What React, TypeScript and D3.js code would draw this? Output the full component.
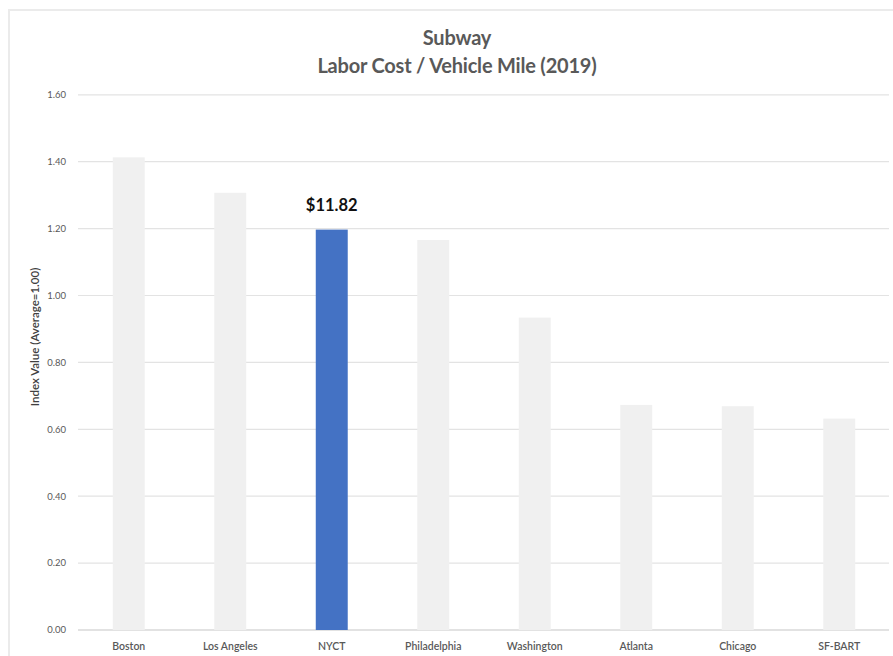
import React from "react";
import * as d3 from "d3";

const categories = ["Boston", "Los Angeles", "NYCT", "Philadelphia", "Washington", "Atlanta", "Chicago", "SF-BART"];
const values = [1.413, 1.307, 1.197, 1.166, 0.934, 0.673, 0.669, 0.632];
const highlight = "NYCT";
const highlightLabel = "$11.82";
const yTicks = [0, 0.2, 0.4, 0.6, 0.8, 1.0, 1.2, 1.4, 1.6];
const titleLines = ["Subway", "Labor Cost / Vehicle Mile (2019)"];
const yAxisTitle = "Index Value (Average=1.00)";

const W = 893;
const H = 656;
const FONT = "Lato, 'Open Sans', sans-serif";

export default function App() {
  const x = d3
    .scaleBand<string>()
    .domain(categories)
    .range([78, 890])
    .paddingInner(0.685)
    .paddingOuter(0.3425);
  const y = d3.scaleLinear().domain([0, 1.6]).range([630, 94.8]);

  return (
    <svg
      width={W}
      height={H}
      style={{ position: "absolute", left: 0, top: 0, background: "#fff" }}
    >
      <rect x={9} y={10} width={W + 20} height={H + 20} fill="#fff" stroke="#ebebeb" strokeWidth={2} />
      {titleLines.map((t, i) => (
        <text
          key={t}
          x={457}
          y={45 + i * 28}
          textAnchor="middle"
          fontFamily={FONT}
          fontSize={20}
          fontWeight={700}
          letterSpacing={-0.2}
          fill="#595959"
        >
          {t}
        </text>
      ))}
      {yTicks.map((t) => (
        <g key={t}>
          <line
            x1={78}
            x2={889}
            y1={y(t)}
            y2={y(t)}
            stroke={t === 0 ? "#d9d9d9" : "#e3e3e3"}
            strokeWidth={t === 0 ? 1.5 : 1.2}
          />
          <text
            x={66}
            y={y(t)}
            dy="0.35em"
            textAnchor="end"
            fontFamily={FONT}
            fontSize={9.5}
            fill="#595959"
          >
            {d3.format(".2f")(t)}
          </text>
        </g>
      ))}
      <text
        transform={`translate(39, ${337}) rotate(-90)`}
        textAnchor="middle"
        fontFamily={FONT}
        fontSize={11.5}
        fontWeight={600}
        fill="#404040"
      >
        {yAxisTitle}
      </text>
      {categories.map((c, i) => (
        <g key={c}>
          <rect
            x={x(c)}
            y={y(values[i])}
            width={x.bandwidth()}
            height={y(0) - y(values[i])}
            fill={c === highlight ? "#4472c4" : "#f0f0f0"}
          />
          <text
            x={(x(c) as number) + x.bandwidth() / 2}
            y={649.5}
            textAnchor="middle"
            fontFamily={FONT}
            fontSize={10.5}
            fontWeight={600}
            fill="#595959"
          >
            {c}
          </text>
          {c === highlight && (
            <text
              x={(x(c) as number) + x.bandwidth() / 2}
              y={211}
              textAnchor="middle"
              fontFamily={FONT}
              fontSize={16.5}
              fontWeight={700}
              fill="#111"
            >
              {highlightLabel}
            </text>
          )}
        </g>
      ))}
    </svg>
  );
}
